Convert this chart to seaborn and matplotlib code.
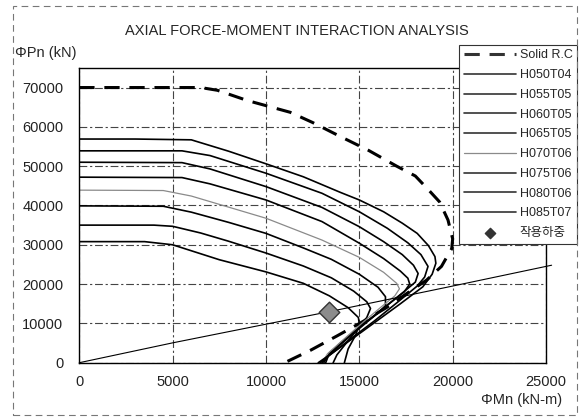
import numpy as np
import pandas as pd
import matplotlib
matplotlib.use("Agg")
import matplotlib.pyplot as plt
import seaborn as sns
from matplotlib.patches import Rectangle

# ---------------- data (M in kN-m, P in kN) ----------------
solid_M = [0, 6500, 7400, 9000, 11300, 12500, 14000, 15500, 17000, 18000, 18700, 19300,
           19750, 20000, 19950, 19700, 19400, 18600, 17600, 16450, 15200, 13800, 12400, 11000]
solid_P = [70000, 70000, 69300, 66700, 63700, 61100, 57500, 54000, 50000, 47500, 44000, 40900,
           36300, 31500, 29000, 27000, 24500, 21000, 17800, 14000, 10500, 6800, 3200, 0]

H050T04_M = [0, 3500, 5000, 7500, 10000, 12000, 13400, 14400, 14950, 15000, 14800, 14400, 14200]
H050T04_P = [30800, 30800, 30000, 26200, 23100, 20200, 17000, 14000, 11500, 9800, 7000, 3500, 0]

H055T05_M = [0, 4000, 5000, 6500, 8000, 10000, 12000, 13500, 14700, 15400, 15600, 15400, 14900, 14300, 13800, 13600]
H055T05_P = [35000, 35000, 34700, 33000, 30900, 27900, 24600, 21600, 18200, 15500, 13800, 11500, 8500, 5000, 2000, 0]

H060T05_M = [0, 4500, 6000, 8000, 10000, 12000, 13500, 15000, 16000, 16400, 16400, 16000, 15200, 14200, 13400, 13200]
H060T05_P = [39900, 39800, 38300, 35700, 32900, 29200, 26300, 22500, 19200, 16800, 14500, 12600, 9800, 5900, 2500, 0]

H065T05_M = [0, 5500, 7000, 10000, 13000, 15000, 16300, 17200, 17600, 17700, 17400, 16500, 15400, 14300, 13400, 13100]
H065T05_P = [47200, 47100, 45500, 41400, 35900, 30400, 26500, 23300, 21500, 20000, 18000, 14700, 10500, 6200, 2400, 0]

H070T06_M = [0, 4500, 6000, 10000, 13000, 15000, 16300, 17000, 17150, 16900, 16200, 15200, 14200, 13300, 13000]
H070T06_P = [43900, 43800, 42400, 36750, 31200, 26800, 23000, 20200, 18800, 17000, 14300, 10300, 6100, 2300, 0]

H075T06_M = [0, 5500, 7000, 10000, 13000, 15000, 16300, 17300, 17900, 18150, 18000, 17500, 16600, 15500, 14400, 13500, 13000]
H075T06_P = [51000, 50900, 49300, 44800, 39500, 34600, 30800, 27500, 24800, 22700, 20500, 18500, 15000, 10700, 6300, 2500, 0]

H080T06_M = [0, 5500, 7000, 10000, 13000, 15000, 16500, 17600, 18300, 18680, 18500, 18100, 17000, 15800, 14600, 13600, 12900]
H080T06_P = [53900, 53900, 52700, 48200, 43100, 38400, 34200, 30500, 27500, 24500, 21800, 19500, 15200, 10600, 6300, 2600, 0]

H085T07_M = [0, 3000, 6000, 8000, 10000, 12000, 14000, 15000, 16300, 17300, 18100, 18700, 19050, 19100, 18900, 18400, 17200, 15900, 14600, 13500, 12800]
H085T07_P = [56900, 56900, 56700, 53800, 50600, 47300, 43300, 41400, 38400, 35500, 32900, 29800, 27000, 25300, 22500, 19300, 15000, 10500, 6000, 2300, 0]

load_line_M = [0, 5000, 10000, 13400, 20000, 25300]
load_line_P = [0, 5050, 9800, 13000, 19500, 24800]

load_M = [13400]
load_P = [13000]

series_names = ["H050T04", "H055T05", "H060T05", "H065T05", "H070T06",
                "H075T06", "H080T06", "H085T07"]
series_M = [H050T04_M, H055T05_M, H060T05_M, H065T05_M, H070T06_M,
            H075T06_M, H080T06_M, H085T07_M]
series_P = [H050T04_P, H055T05_P, H060T05_P, H065T05_P, H070T06_P,
            H075T06_P, H080T06_P, H085T07_P]

x_ticks = [0, 5000, 10000, 15000, 20000, 25000]
y_ticks = [0, 10000, 20000, 30000, 40000, 50000, 60000, 70000]

title_text = "AXIAL FORCE-MOMENT INTERACTION ANALYSIS"
y_label = "ΦPn (kN)"
x_label = "ΦMn (kN-m)"
load_label = "작용하중"

# ---------------- style ----------------
sns.set_style("white")
plt.rcParams['font.family'] = ['Liberation Sans', 'Noto Sans CJK KR', 'DejaVu Sans']

fig = plt.figure(figsize=(5.8, 4.17), dpi=100)
ax = fig.add_axes([0.1367, 0.1302, 0.8047, 0.707])

# Solid R.C
sns.lineplot(x=solid_M, y=solid_P, sort=False, estimator=None, ax=ax,
             color="black", lw=2.2, linestyle=(0, (5, 3.2)), label="Solid R.C")

for name, M, P in zip(series_names, series_M, series_P):
    if name == "H070T06":
        sns.lineplot(x=M, y=P, sort=False, estimator=None, ax=ax,
                     color="#8a8a8a", lw=0.9, label=name)
    else:
        sns.lineplot(x=M, y=P, sort=False, estimator=None, ax=ax,
                     color="black", lw=1.2, label=name)

ln = sns.lineplot(x=load_line_M, y=load_line_P, sort=False, estimator=None, ax=ax,
                  color="black", lw=0.8)
ax.lines[-1].set_clip_on(False)

sns.scatterplot(x=load_M, y=load_P, marker="D", s=110, color="#8c8c8c",
                edgecolor="#333333", linewidth=1.0, ax=ax, label=load_label, zorder=5)

ax.set_xlim(0, 25000)
ax.set_ylim(0, 75000)
ax.set_xticks(x_ticks)
ax.set_yticks(y_ticks)
ax.set_xticklabels([str(v) for v in x_ticks])
ax.set_yticklabels([str(v) for v in y_ticks])
ax.tick_params(axis='both', length=0, labelsize=10.5, colors="#222222")
ax.tick_params(axis='y', pad=11.5)
ax.tick_params(axis='x', pad=9)
ax.set_xlabel("")
ax.set_ylabel("")

ax.grid(True, color="#444444", lw=0.8, linestyle=(0, (7, 2.5, 2, 2.5)))
ax.set_axisbelow(True)
for sp in ax.spines.values():
    sp.set_color("black")
    sp.set_linewidth(1.0)

handles, labels = ax.get_legend_handles_labels()
leg = ax.legend(handles, labels, loc="upper right",
                bbox_to_anchor=(577 / 580, 1 - 45 / 417), bbox_transform=fig.transFigure,
                fontsize=9, handlelength=4.2, handletextpad=0.3, labelspacing=0.62,
                borderpad=0.35, borderaxespad=0, fancybox=False, frameon=True,
                markerscale=0.5)
leg.get_frame().set_edgecolor("#333333")
leg.get_frame().set_linewidth(0.8)
leg.get_frame().set_facecolor("white")
leg.get_frame().set_alpha(1)
leg.set_zorder(10)
for lh in leg.legend_handles:
    try:
        lh.set_color("#333333")
    except Exception:
        pass
leg.legend_handles[5].set_color("#8a8a8a")

fig.text(0.512, 1 - 31 / 417, title_text, ha="center", va="center", fontsize=10.5)
fig.text(15 / 580, 1 - 53 / 417, y_label, ha="left", va="center", fontsize=10.5)
fig.text(562 / 580, 1 - 400 / 417, x_label, ha="right", va="center", fontsize=10.5)

fig.patches.append(Rectangle((13 / 580, 2 / 417), 564 / 580, (411 - 2) / 417,
                             transform=fig.transFigure, fill=False, edgecolor="#777777",
                             lw=0.8, linestyle=(0, (6, 4))))

fig.savefig("out.png", dpi=100)
